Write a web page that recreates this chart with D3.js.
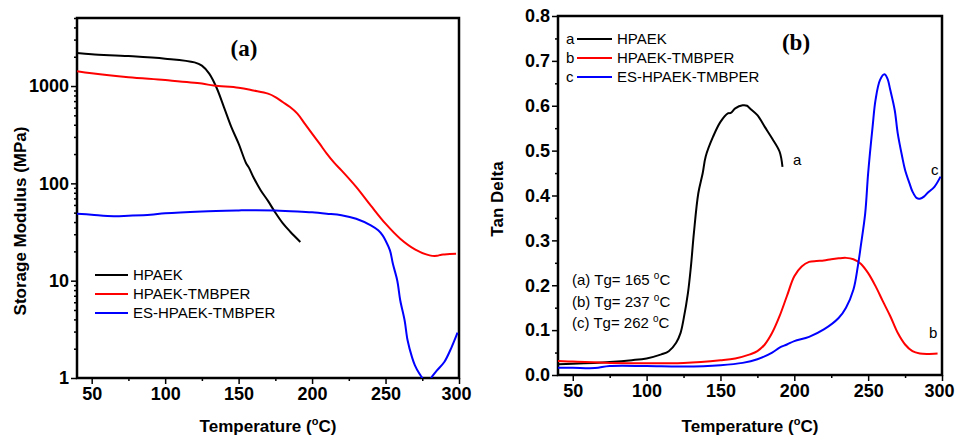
<!DOCTYPE html>
<html>
<head>
<meta charset="utf-8">
<script src="https://cdn.jsdelivr.net/npm/d3@7"></script>
<style>
    body { margin: 0; background: #fff; }
    svg { display: block; }
    .tick text { font-family: "Liberation Sans", Arial, sans-serif; font-weight: bold; font-size: 18px; fill: #000; }
    .domain { display: none; }
    .tick line { stroke: #000; stroke-width: 1.5; }
    .ttl { font-family: "Liberation Sans", Arial, sans-serif; font-weight: bold; font-size: 17px; }
    .lg { font-family: "Liberation Sans", Arial, sans-serif; font-size: 15px; }
    .pn { font-family: "Liberation Serif", "Times New Roman", serif; font-weight: bold; font-size: 23px; }
</style>
</head>
<body>
<svg id="chart" width="956" height="437"></svg>
<script>
// ---- panel (a): storage modulus (MPa) ----
const modTempHPAEK = [40, 50, 75, 100, 120, 125, 130, 135, 140, 145, 150, 155, 157, 160, 165, 170, 175, 180, 185, 192];
const modHPAEK = [2180, 2120, 2030, 1910, 1750, 1620, 1340, 960, 608, 380, 256, 162, 145, 116, 85, 66, 50, 39, 32, 25];

const modTempTMBPER = [40, 50, 75, 100, 125, 133, 150, 160, 170, 175, 180, 185, 190, 195, 200, 205, 210, 215, 220, 230, 240, 250, 260, 270, 280, 285, 288, 290, 298];
const modTMBPER = [1420, 1350, 1230, 1150, 1060, 1010, 960, 900, 835, 771, 685, 608, 520, 410, 324, 257, 202, 163, 136, 92, 59, 38.5, 27, 21, 18.2, 18, 18.5, 18.6, 18.9];

const modTempES = [40, 50, 65, 75, 90, 100, 125, 150, 160, 175, 190, 200, 210, 220, 230, 240, 245, 248, 250, 253, 255, 258, 260, 263, 265, 268, 270, 273, 275, 277, 280, 282, 285, 290, 295, 299];
const modES = [48.8, 47.6, 46, 46.5, 47.6, 49.3, 51.5, 52.7, 53, 52.7, 51.5, 50.4, 48.8, 47, 43.3, 37, 32.9, 29.2, 25.9, 20.5, 14.9, 10, 6.3, 3.9, 2.44, 1.64, 1.35, 1.11, 1, 0.9, 0.95, 1.05, 1.2, 1.46, 2.08, 2.92];

const modTicks = [1, 10, 100, 1000];
const modTickLabels = ["1", "10", "100", "1000"];

// ---- panel (b): tan delta ----
const tanTempHPAEK = [40, 50, 75, 90, 100, 110, 115, 120, 123, 125, 128, 130, 132, 135, 138, 140, 145, 150, 155, 157, 160, 165, 168, 170, 175, 180, 185, 190, 192];
const tanHPAEK = [0.024, 0.025, 0.029, 0.033, 0.037, 0.046, 0.053, 0.072, 0.094, 0.124, 0.183, 0.242, 0.316, 0.405, 0.45, 0.487, 0.531, 0.564, 0.583, 0.584, 0.594, 0.601, 0.600, 0.594, 0.579, 0.553, 0.527, 0.498, 0.464];

const tanTempTMBPER = [40, 50, 75, 100, 125, 150, 160, 170, 175, 180, 185, 190, 195, 200, 205, 210, 215, 220, 225, 230, 235, 240, 245, 250, 255, 260, 265, 270, 275, 280, 285, 290, 297];
const tanTMBPER = [0.031, 0.030, 0.027, 0.026, 0.027, 0.033, 0.037, 0.046, 0.053, 0.068, 0.094, 0.131, 0.176, 0.22, 0.242, 0.252, 0.254, 0.255, 0.258, 0.26, 0.261, 0.258, 0.248, 0.227, 0.198, 0.164, 0.131, 0.094, 0.068, 0.053, 0.048, 0.047, 0.048];

const tanTempES = [40, 50, 65, 75, 100, 125, 150, 165, 175, 185, 190, 195, 200, 210, 220, 230, 235, 240, 243, 245, 248, 250, 253, 255, 258, 261, 263, 265, 268, 270, 273, 275, 278, 280, 283, 285, 288, 290, 295, 299];
const tanES = [0.016, 0.016, 0.0155, 0.02, 0.02, 0.019, 0.022, 0.027, 0.035, 0.05, 0.061, 0.068, 0.0756, 0.085, 0.1015, 0.127, 0.15, 0.19, 0.242, 0.287, 0.36, 0.45, 0.553, 0.613, 0.657, 0.670, 0.661, 0.635, 0.59, 0.539, 0.487, 0.457, 0.427, 0.409, 0.394, 0.393, 0.398, 0.405, 0.42, 0.442];

const tanTicks = [0, 0.1, 0.2, 0.3, 0.4, 0.5, 0.6, 0.7, 0.8];

const tempTicks = [50, 100, 150, 200, 250, 300];
const tempMinor = [75, 125, 175, 225, 275];

const seriesNames = ["HPAEK", "HPAEK-TMBPER", "ES-HPAEK-TMBPER"];
const seriesColors = ["#000000", "#ff0000", "#0000ff"];
const seriesLetters = ["a", "b", "c"];
const tgNotes = ["(a) Tg= 165 ", "(b) Tg= 237 ", "(c) Tg= 262 "];

const svg = d3.select("#chart");

// draws one framed panel and returns its x scale
function drawFrame(box, y, yTicks, yFormat, yMinor, clipId) {
    let x = d3.scaleLinear().domain([40, 300]).range([box.left, box.right]);

    let g = svg.append("g");

    let xAxis = g.append("g")
        .attr("transform", `translate(0,${box.bottom})`)
        .call(d3.axisBottom(x).tickValues(tempTicks).tickSize(6).tickSizeOuter(0).tickPadding(3))
    ;
    // keep the last label inside the page
    xAxis.selectAll(".tick text").filter(d => d === 300).attr("dx", "-3");

    g.append("g")
        .attr("transform", `translate(0,${box.bottom})`)
        .call(d3.axisBottom(x).tickValues(tempMinor).tickSize(3).tickFormat("").tickSizeOuter(0))
    ;
    g.append("g")
        .attr("transform", `translate(${box.left},0)`)
        .call(d3.axisLeft(y).tickValues(yTicks).tickFormat(yFormat).tickSize(6).tickSizeOuter(0).tickPadding(2))
    ;
    g.append("g")
        .attr("transform", `translate(${box.left},0)`)
        .call(d3.axisLeft(y).tickValues(yMinor).tickSize(3).tickFormat("").tickSizeOuter(0))
    ;

    g.append("rect")
        .attr("x", box.left).attr("y", box.top)
        .attr("width", box.right - box.left).attr("height", box.bottom - box.top)
        .attr("fill", "none").attr("stroke", "#000").attr("stroke-width", 2.5)
    ;

    svg.append("clipPath").attr("id", clipId)
        .append("rect")
        .attr("x", box.left).attr("y", box.top)
        .attr("width", box.right - box.left).attr("height", box.bottom - box.top)
    ;

    return x;
}

function drawLine(x, y, xs, ys, color, clipId) {
    let line = d3.line()
        .x(d => x(d[0]))
        .y(d => y(d[1]))
        .curve(d3.curveCatmullRom.alpha(0.5));
    svg.append("path")
        .datum(xs.map((t, i) => [t, ys[i]]))
        .attr("clip-path", `url(#${clipId})`)
        .attr("fill", "none")
        .attr("stroke", color)
        .attr("stroke-width", 2)
        .attr("d", line)
    ;
}

function tempTitle(cx) {
    let t = svg.append("text").attr("class", "ttl")
        .attr("x", cx).attr("y", 432).attr("text-anchor", "middle");
    t.append("tspan").text("Temperature (");
    t.append("tspan").attr("font-size", "11px").attr("dy", -7).text("o");
    t.append("tspan").attr("dy", 7).text("C)");
}

// ---------- panel (a) ----------
let boxA = {left: 77, right: 459, top: 18, bottom: 378};
let yA = d3.scaleLog().domain([1, 5000]).range([boxA.bottom, boxA.top]);
let minorA = [];
[1, 10, 100, 1000].forEach(dec => {
    for (let k = 2; k <= 9; k++) {
        if (dec * k <= 5000) minorA.push(dec * k);
    }
});
let xA = drawFrame(boxA, yA, modTicks, (d, i) => modTickLabels[i], minorA, "clipA");

drawLine(xA, yA, modTempHPAEK, modHPAEK, seriesColors[0], "clipA");
drawLine(xA, yA, modTempTMBPER, modTMBPER, seriesColors[1], "clipA");
drawLine(xA, yA, modTempES, modES, seriesColors[2], "clipA");

svg.append("text").attr("class", "pn").attr("x", 244).attr("y", 56).attr("text-anchor", "middle").text("(a)");

seriesNames.forEach((name, i) => {
    let ly = 275 + i * 19;
    svg.append("line").attr("x1", 95).attr("x2", 128).attr("y1", ly).attr("y2", ly)
        .attr("stroke", seriesColors[i]).attr("stroke-width", 2);
    svg.append("text").attr("class", "lg").attr("x", 133).attr("y", ly + 5).text(name);
});

svg.append("text").attr("class", "ttl")
    .attr("transform", "translate(26,221) rotate(-90)")
    .attr("text-anchor", "middle")
    .text("Storage Modulus (MPa)");
tempTitle(268);

// ---------- panel (b) ----------
let boxB = {left: 558, right: 942, top: 16, bottom: 375};
let yB = d3.scaleLinear().domain([0, 0.8]).range([boxB.bottom, boxB.top]);
let minorB = d3.range(0.05, 0.8, 0.1);
let xB = drawFrame(boxB, yB, tanTicks, d3.format(".1f"), minorB, "clipB");

drawLine(xB, yB, tanTempHPAEK, tanHPAEK, seriesColors[0], "clipB");
drawLine(xB, yB, tanTempTMBPER, tanTMBPER, seriesColors[1], "clipB");
drawLine(xB, yB, tanTempES, tanES, seriesColors[2], "clipB");

svg.append("text").attr("class", "pn").attr("x", 796).attr("y", 50).attr("text-anchor", "middle").text("(b)");

seriesNames.forEach((name, i) => {
    let ly = 39 + i * 19;
    svg.append("text").attr("class", "lg").attr("x", 566).attr("y", ly + 5).text(seriesLetters[i]);
    svg.append("line").attr("x1", 577).attr("x2", 612).attr("y1", ly).attr("y2", ly)
        .attr("stroke", seriesColors[i]).attr("stroke-width", 2);
    svg.append("text").attr("class", "lg").attr("x", 617).attr("y", ly + 5).text(name);
});

tgNotes.forEach((note, i) => {
    let t = svg.append("text").attr("class", "lg").attr("x", 572).attr("y", 285 + i * 21.5);
    t.append("tspan").text(note);
    t.append("tspan").attr("font-size", "10px").attr("dy", -6).text("o");
    t.append("tspan").attr("dy", 6).text("C");
});

// curve end labels
svg.append("text").attr("class", "lg").attr("x", 793).attr("y", 165).text("a");
svg.append("text").attr("class", "lg").attr("x", 929).attr("y", 338).text("b");
svg.append("text").attr("class", "lg").attr("x", 931).attr("y", 175).text("c");

svg.append("text").attr("class", "ttl")
    .attr("transform", "translate(503,199) rotate(-90)")
    .attr("text-anchor", "middle")
    .text("Tan Delta");
tempTitle(750);
</script>
</body>
</html>
